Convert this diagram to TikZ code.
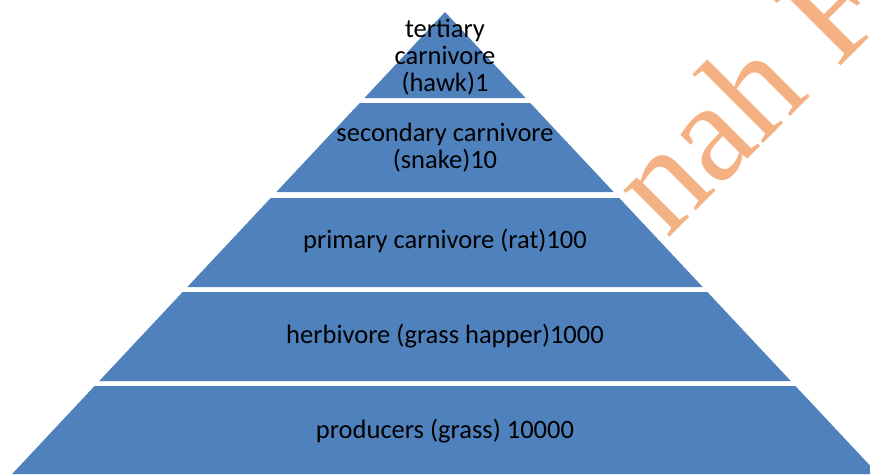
\documentclass[tikz,border=0pt]{standalone}
\usepackage{fontspec}
\setmainfont{Carlito}
\newfontfamily\markfont{Liberation Serif}
\usepackage{xcolor}
\usepackage{tikz}
\definecolor{tierblue}{HTML}{4F81BD}
\definecolor{markorange}{HTML}{F4B183}

\begin{document}
\begin{tikzpicture}[x=1pt,y=-1pt,
    tier/.style={fill=tierblue},
    tiertext/.style={font=\fontsize{26.5}{27}\selectfont,black,align=center,inner sep=0pt}]
  \useasboundingbox (0,0) rectangle (870,474);
  \clip (0,0) rectangle (870,474);
  % watermark, behind the pyramid
  \node[font=\markfont\fontsize{142}{142}\selectfont,text=markorange,rotate=45,
        anchor=base west,inner sep=0pt] (mark) at (667,240) {nah F};
  % five tiers cut from one triangle, apex (445,12)
  \foreach \ya/\yb in {12/98,103/192,198/287,292/381,386/474}
    \fill[tier] ({445-0.937*(\ya-12)},\ya) -- ({445+0.937*(\ya-12)},\ya)
      -- ({445+0.937*(\yb-12)},\yb) -- ({445-0.937*(\yb-12)},\yb) -- cycle;
  \node[tiertext] (hawk)  at (445,57)  {tertiary\\carnivore\\(hawk)1};
  \node[tiertext] (snake) at (445,148) {secondary carnivore\\(snake)10};
  \node[tiertext] (rat)   at (445,241) {primary carnivore (rat)100};
  \node[tiertext] (grasshopper) at (445,336) {herbivore (grass happer)1000};
  \node[tiertext] (grass) at (445,431) {producers (grass) 10000};
\end{tikzpicture}
\end{document}
